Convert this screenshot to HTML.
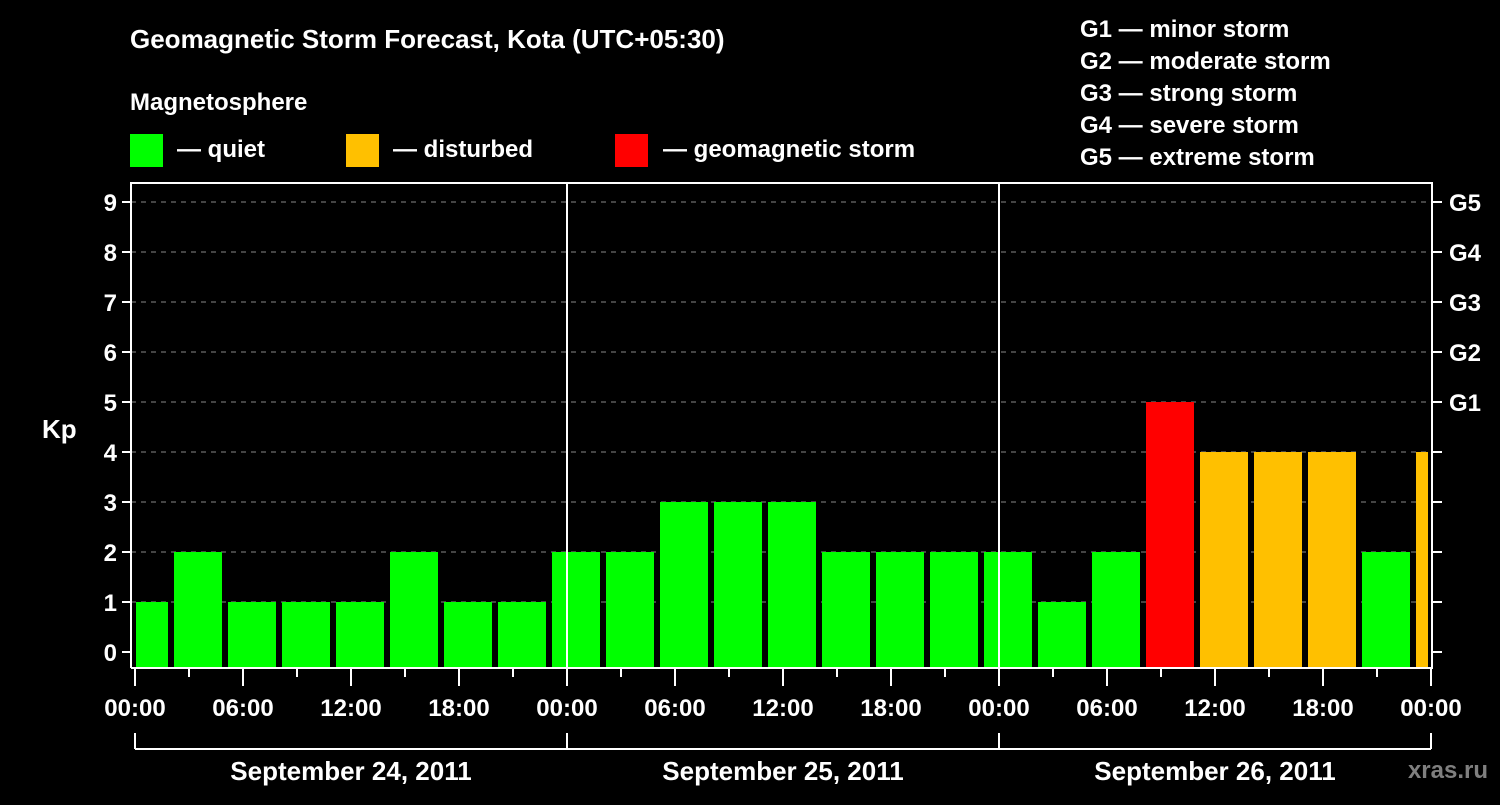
<!DOCTYPE html>
<html><head><meta charset="utf-8"><style>
body{margin:0;background:#000;}
svg text{font-family:"Liberation Sans",sans-serif;font-weight:bold;fill:#fff;}
</style></head><body>
<svg width="1500" height="800" xmlns="http://www.w3.org/2000/svg">
<rect width="1500" height="800" fill="#000"/>
<text x="130" y="48" font-size="26">Geomagnetic Storm Forecast, Kota (UTC+05:30)</text>
<text x="130" y="110" font-size="24">Magnetosphere</text>
<g><rect x="130" y="134" width="33" height="33" fill="#00ff00"/><text x="177" y="157" font-size="24">— quiet</text></g>
<g><rect x="346" y="134" width="33" height="33" fill="#ffc000"/><text x="393" y="157" font-size="24">— disturbed</text></g>
<g><rect x="615" y="134" width="33" height="33" fill="#ff0000"/><text x="663" y="157" font-size="24">— geomagnetic storm</text></g>
<g font-size="24">
<text x="1080" y="37">G1 — minor storm</text>
<text x="1080" y="69">G2 — moderate storm</text>
<text x="1080" y="101">G3 — strong storm</text>
<text x="1080" y="133">G4 — severe storm</text>
<text x="1080" y="165">G5 — extreme storm</text>
</g>
<text x="42" y="438" font-size="26">Kp</text>
<g id="plot"></g>
<text x="1488" y="778" font-size="24" text-anchor="end" fill="#888" style="fill:#7f7f7f">xras.ru</text>
</svg>
<script>
const kpValues=[1,2,1,1,1,2,1,1,2,2,3,3,3,2,2,2,2,1,2,5,4,4,4,2,4];
const binStartHours=[-1,2,5,8,11,14,17,20,23,26,29,32,35,38,41,44,47,50,53,56,59,62,65,68,71];
const yTicks=[0,1,2,3,4,5,6,7,8,9];
const gLabels=["G1","G2","G3","G4","G5"];
const gLevels=[5,6,7,8,9];
const xTickLabels=["00:00","06:00","12:00","18:00","00:00","06:00","12:00","18:00","00:00","06:00","12:00","18:00","00:00"];
const dayLabels=["September 24, 2011","September 25, 2011","September 26, 2011"];
const NS="http://www.w3.org/2000/svg";
const L=131,R=1432,T=183,B=668;
const xs=h=>135+18*h;
const ys=v=>652-50*v;
const g=document.getElementById('plot');
function mk(t,a){const e=document.createElementNS(NS,t);for(const k in a)e.setAttribute(k,a[k]);g.appendChild(e);return e;}
// grid
yTicks.forEach(v=>{if(v>0){const e=mk('line',{x1:L,x2:R,y1:ys(v),y2:ys(v),stroke:'#888','stroke-width':1,'stroke-dasharray':'5,5'});

}});
// bars
kpValues.forEach((v,i)=>{let x0=xs(binStartHours[i])+3,x1=xs(binStartHours[i]+3)-3;x0=Math.max(x0,136);x1=Math.min(x1,1428);
const c=v>=5?'#ff0000':(v>=4?'#ffc000':'#00ff00');
const e=mk('rect',{x:x0,y:ys(v),width:x1-x0,height:B-ys(v),fill:c});

});
// day separators
[24,48].forEach(h=>{const e=mk('line',{x1:xs(h),x2:xs(h),y1:T,y2:B,stroke:'#fff','stroke-width':2});

});
// frame
const fr=mk('path',{d:`M${L} ${B}V${T}H${R}V${B}H${L}`,fill:'none',stroke:'#fff','stroke-width':2});


// y ticks
yTicks.forEach(v=>{mk('line',{x1:122,x2:L,y1:ys(v),y2:ys(v),stroke:'#fff','stroke-width':2});
const t=mk('text',{x:117,y:ys(v)+9,'font-size':24,'text-anchor':'end'});t.textContent=v;


if(v>=1&&v<=4){mk('line',{x1:R,x2:1442,y1:ys(v),y2:ys(v),stroke:'#fff','stroke-width':2});}
if(v===0)mk('line',{x1:R,x2:1442,y1:ys(v),y2:ys(v),stroke:'#fff','stroke-width':2});});
gLabels.forEach((s,i)=>{mk('line',{x1:R,x2:1442,y1:ys(gLevels[i]),y2:ys(gLevels[i]),stroke:'#fff','stroke-width':2});
const t=mk('text',{x:1449,y:ys(gLevels[i])+9,'font-size':24});t.textContent=s;

});
// x ticks
for(let h=0;h<=72;h+=3){const major=h%6===0;mk('line',{x1:xs(h),x2:xs(h),y1:B,y2:major?686:677,stroke:'#fff','stroke-width':2});}
xTickLabels.forEach((s,i)=>{const t=mk('text',{x:xs(i*6),y:716,'font-size':24,'text-anchor':'middle'});t.textContent=s;

});
// day bracket
mk('line',{x1:xs(0),x2:xs(72),y1:749,y2:749,stroke:'#fff','stroke-width':2});
[0,24,48,72].forEach(h=>mk('line',{x1:xs(h),x2:xs(h),y1:733,y2:749,stroke:'#fff','stroke-width':2}));
dayLabels.forEach((s,i)=>{const t=mk('text',{x:xs(i*24+12),y:780,'font-size':26,'text-anchor':'middle'});t.textContent=s;

});
</script>
</body></html>
